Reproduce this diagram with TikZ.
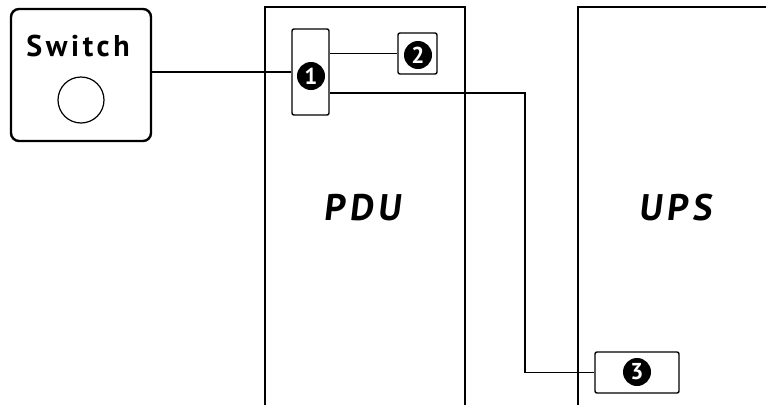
\documentclass[tikz,border=0pt]{standalone}
\usepackage{fontspec}
\setmainfont{PT Sans}
\newfontfamily\tagfont[LetterSpace=12]{PT Sans}
\newfontfamily\slanttagfont[LetterSpace=12,FakeSlant=0.12]{PT Sans}
\usetikzlibrary{positioning}

\begin{document}
\begin{tikzpicture}[x=1pt,y=-1pt,
        cabinet/.style={line width=2.6pt},
        cablabel/.style={font=\slanttagfont\fontsize{37}{37}\selectfont\bfseries},
        portbox/.style={draw,line width=1.4pt,rounded corners=2pt,inner sep=0pt},
        marker/.style={circle,fill=black,text=white,inner sep=0pt,minimum size=28pt,
            font=\fontsize{23}{23}\selectfont\bfseries},
        wire/.style={line width=1.3pt}]
    \useasboundingbox (0,0) rectangle (766,405);
    % cabinets, open at the bottom
    \draw[cabinet] (265,405) -- (265,7) -- (465,7) -- (465,405);
    \draw[cabinet] (578,405) -- (578,7) -- (766,7);
    \node[cablabel] (pdu) at (362,208) {PDU};
    \node[cablabel] (ups) at (675,208) {UPS};
    % switch
    \node[draw,line width=2.4pt,rounded corners=8pt,minimum width=140pt,minimum height=132pt] (switch) at (81,75) {};
    \node[font=\tagfont\fontsize{30}{30}\selectfont\bfseries] (swlabel) at (78,46) {Switch};
    \node[draw,circle,line width=1.2pt,minimum size=46pt] (knob) at (81,100) {};
    % ports
    \node[portbox,minimum width=37pt,minimum height=86pt] (box1) at (310.5,72) {};
    \node[portbox,minimum width=39pt,minimum height=41pt] (box2) at (417.5,53.5) {};
    \node[portbox,minimum width=84pt,minimum height=41pt] (box3) at (637,372.5) {};
    \node[marker] (m1) at (311,76) {1};
    \node[marker] (m2) at (418,55) {2};
    \node[marker] (m3) at (637,372) {3};
    % wiring
    \coordinate (riser) at (525,0);
    \draw[wire] (switch.east |- box1.west) -- (box1.west);
    \draw[wire] (box1.east |- box2) -- (box2.west);
    \draw[wire] ([yshift=-21pt]box1.east) -| (riser |- box3.west) -- (box3.west);
\end{tikzpicture}
\end{document}
